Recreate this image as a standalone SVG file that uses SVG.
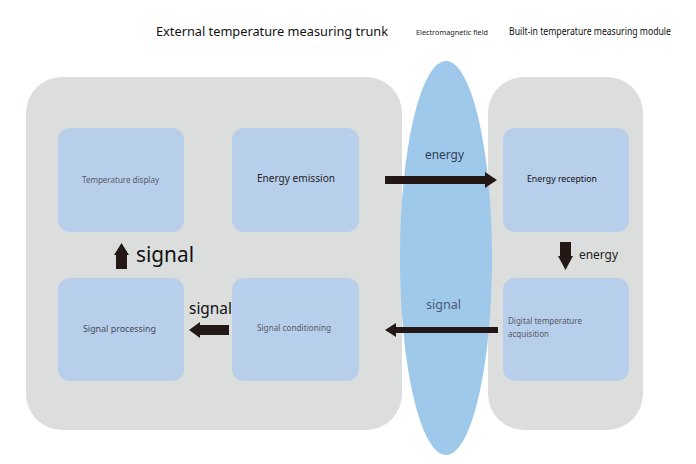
<svg xmlns="http://www.w3.org/2000/svg" width="696" height="464" viewBox="0 0 696 464">
<style>
.cont{fill:#dcdddd}
.box{fill:#b8cfeb}
.t{font-family:"Noto Sans","Liberation Sans",sans-serif}
.arr{fill:#231815}
</style>
<rect width="696" height="464" fill="#ffffff"/>
<g id="titles">
<text class="t" x="156" y="36" font-size="13" fill="#111" textLength="232" lengthAdjust="spacingAndGlyphs">External temperature measuring trunk</text>
<text class="t" x="416" y="35" font-size="7.5" fill="#222" textLength="72" lengthAdjust="spacingAndGlyphs">Electromagnetic field</text>
<text class="t" x="509" y="35" font-size="10" fill="#111" textLength="162" lengthAdjust="spacingAndGlyphs">Built-in temperature measuring module</text>
</g>
<g id="external-trunk"><rect class="cont" x="26" y="77" width="376" height="353" rx="36"/></g>
<g id="builtin-module"><rect class="cont" x="488" y="77" width="155" height="353" rx="36"/></g>
<g id="em-field">
<ellipse cx="446" cy="258" rx="46" ry="197" fill="#9fc9eb"/>
<text class="t" x="425" y="159" font-size="13" fill="#333d55" textLength="39" lengthAdjust="spacingAndGlyphs">energy</text>
<text class="t" x="426" y="309" font-size="13" fill="#4a5a78" textLength="35" lengthAdjust="spacingAndGlyphs">signal</text>
</g>
<g id="temperature-display"><rect class="box" x="58" y="128" width="126" height="104" rx="12"/>
<text class="t" x="82" y="183" font-size="8.5" fill="#555a66" textLength="77" lengthAdjust="spacingAndGlyphs">Temperature display</text></g>
<g id="energy-emission"><rect class="box" x="232" y="128" width="127" height="104" rx="12"/>
<text class="t" x="257" y="182" font-size="11" fill="#222" textLength="78" lengthAdjust="spacingAndGlyphs">Energy emission</text></g>
<g id="signal-processing"><rect class="box" x="58" y="278" width="126" height="103" rx="12"/>
<text class="t" x="83" y="332" font-size="9.5" fill="#444a58" textLength="73" lengthAdjust="spacingAndGlyphs">Signal processing</text></g>
<g id="signal-conditioning"><rect class="box" x="232" y="278" width="127" height="103" rx="12"/>
<text class="t" x="257" y="331" font-size="8.5" fill="#555a66" textLength="74" lengthAdjust="spacingAndGlyphs">Signal conditioning</text></g>
<g id="energy-reception"><rect class="box" x="503" y="128" width="126" height="104" rx="12"/>
<text class="t" x="527" y="182" font-size="9.5" fill="#111" textLength="70" lengthAdjust="spacingAndGlyphs">Energy reception</text></g>
<g id="digital-acquisition"><rect class="box" x="503" y="278" width="126" height="103" rx="12"/>
<text class="t" x="508" y="324" font-size="8.5" fill="#555a66" textLength="74" lengthAdjust="spacingAndGlyphs">Digital temperature</text>
<text class="t" x="508" y="337" font-size="8.5" fill="#555a66" textLength="41" lengthAdjust="spacingAndGlyphs">acquisition</text></g>
<g id="connectors">
<polygon class="arr" points="385,176 485,176 485,172 497,180 485,188 485,184 385,184"/>
<polygon class="arr" points="498,327 396,327 396,323 385,330 396,337 396,333 498,333"/>
<polygon class="arr" points="560,242 571,242 571,256 573,256 565.5,270 558,256 560,256"/>
<text class="t" x="579" y="259" font-size="13" fill="#222" textLength="39" lengthAdjust="spacingAndGlyphs">energy</text>
<polygon class="arr" points="229,325 229,335 200,335 200,338 189,330 200,322 200,325"/>
<text class="t" x="189" y="314" font-size="16" fill="#111" textLength="43" lengthAdjust="spacingAndGlyphs">signal</text>
<polygon class="arr" points="116,269 127,269 127,255 129,255 121.5,243 114,255 116,255"/>
<text class="t" x="136" y="262" font-size="21" fill="#111" textLength="58" lengthAdjust="spacingAndGlyphs">signal</text>
</g>
</svg>
